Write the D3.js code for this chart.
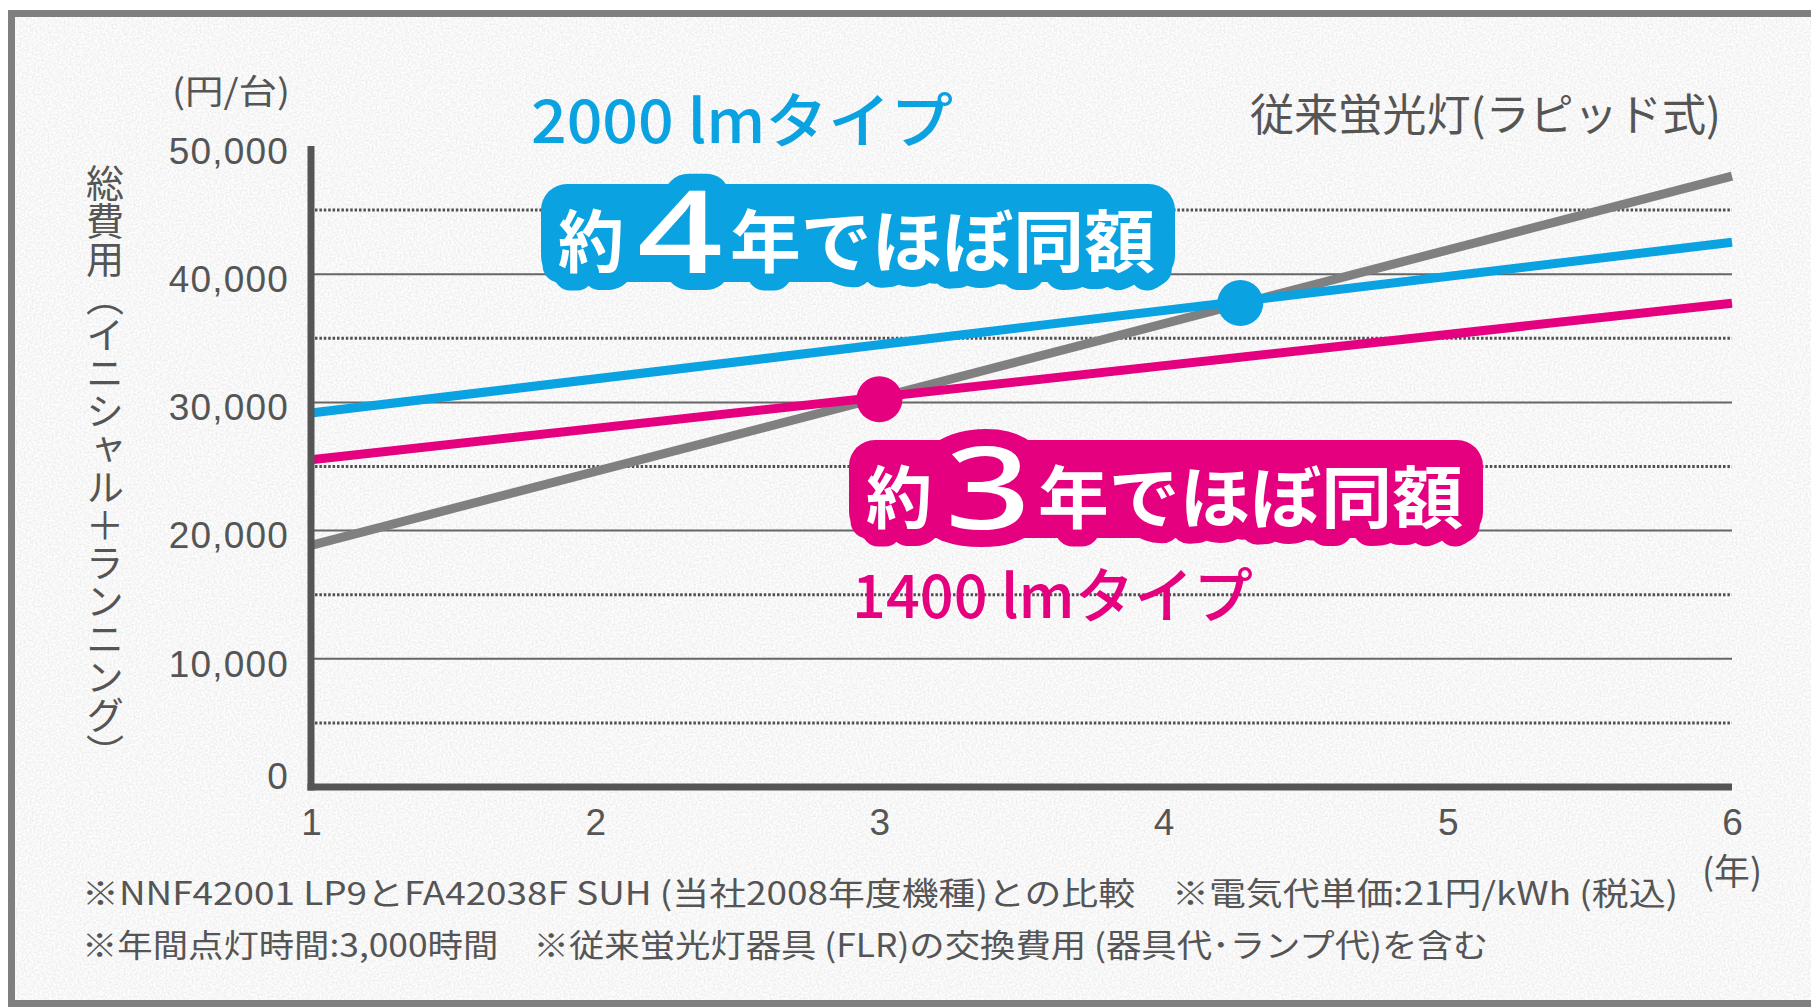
<!DOCTYPE html>
<html><head><meta charset="utf-8">
<script src="https://cdn.jsdelivr.net/npm/d3@7"></script>
<style>
html,body{margin:0;padding:0;background:#fff;}
svg{display:block;}
</style>
</head><body>
<script>
// ---- data ----
const years = [1, 6];
const conventional = [18850, 47650];   // 従来蛍光灯(ラピッド式)
const lm2000 = [29170, 42490];         // 2000 lmタイプ
const lm1400 = [25530, 37740];         // 1400 lmタイプ
const breakEvenYears = [4.27, 3.0];
const breakEvenValues = [37750, 30250];
const xTicks = [1, 2, 3, 4, 5, 6];
const yTicks = [0, 10000, 20000, 30000, 40000, 50000];
const yMinor = [5000, 15000, 25000, 35000, 45000];
const seriesNames = ["従来蛍光灯(ラピッド式)", "2000 lmタイプ", "1400 lmタイプ"];
const callouts = ["約", "4", "年でほぼ同額", "約", "3", "年でほぼ同額"];
const notes = [
  "※NNF42001 LP9とFA42038F SUH (当社2008年度機種)との比較　※電気代単価:21円/kWh (税込)",
  "※年間点灯時間:3,000時間　※従来蛍光灯器具 (FLR)の交換費用 (器具代･ランプ代)を含む"
];

const W = 1811, H = 1008;
const BLUE = "#0aa2e0", PINK = "#e4007f", GRAY = "#808080", TXT = "#555";
const JP = "'Noto Sans CJK JP','Noto Sans',sans-serif";
const NUM = "'Liberation Sans',Arial,sans-serif";

const svg = d3.select("body").append("svg").attr("width", W).attr("height", H);
const defs = svg.append("defs");
const f = defs.append("filter").attr("id", "paper").attr("x", 0).attr("y", 0).attr("width", "100%").attr("height", "100%");
f.append("feTurbulence").attr("type", "fractalNoise").attr("baseFrequency", "0.5").attr("numOctaves", 3).attr("seed", 4);
f.append("feColorMatrix").attr("type", "matrix")
  .attr("values", "0 0 0 0 1  0 0 0 0 1  0 0 0 0 1  2.2 0 0 0 -0.6");

// background & frame
svg.append("rect").attr("width", W).attr("height", H).attr("fill", "#fff");
svg.append("rect").attr("x", 11.5).attr("y", 13.5).attr("width", W).attr("height", 990).attr("fill", "#efefef");
svg.append("rect").attr("x", 11.5).attr("y", 13.5).attr("width", W).attr("height", 990).attr("filter", "url(#paper)");
svg.append("rect").attr("x", 11.5).attr("y", 13.5).attr("width", W).attr("height", 990)
  .attr("fill", "none").attr("stroke", "#7f7f7f").attr("stroke-width", 7);

const x = d3.scaleLinear().domain([1, 6]).range([311, 1732]);
const y = d3.scaleLinear().domain([0, 50000]).range([787, 146]);

// grid
svg.append("g").selectAll("line").data(yTicks.filter(v => v > 0 && v < 50000)).join("line")
  .attr("x1", x(1)).attr("x2", x(6)).attr("y1", d => y(d)).attr("y2", d => y(d))
  .attr("stroke", "#666").attr("stroke-width", 2);
svg.append("g").selectAll("line").data(yMinor).join("line")
  .attr("x1", x(1) + 4).attr("x2", x(6)).attr("y1", d => y(d)).attr("y2", d => y(d))
  .attr("stroke", "#505050").attr("stroke-width", 3).attr("stroke-dasharray", "2.5 1.9");

// axes labels
const yAxis = svg.append("g").attr("transform", "translate(289,0)")
  .call(d3.axisLeft(y).tickValues(yTicks).tickSize(0).tickPadding(0).tickFormat(d3.format(",")));
yAxis.select(".domain").remove();
yAxis.selectAll("text").attr("font-family", NUM).attr("font-size", 37).attr("fill", TXT)
  .attr("letter-spacing", 1.2).attr("dy", "0.36em").attr("y", d => d === 0 ? -12 : 4);

const xAxis = svg.append("g").attr("transform", "translate(0,787)")
  .call(d3.axisBottom(x).tickValues(xTicks).tickSize(0).tickFormat(d3.format("d")));
xAxis.select(".domain").remove();
xAxis.selectAll("text").attr("font-family", NUM).attr("font-size", 37).attr("fill", TXT)
  .attr("y", 35).attr("dy", "0.36em");

// series lines
const line = d3.line().x(d => x(d[0])).y(d => y(d[1]));
[[conventional, GRAY], [lm2000, BLUE], [lm1400, PINK]].forEach(([vals, c]) => {
  svg.append("path").datum(years.map((yr, i) => [yr, vals[i]]))
    .attr("d", line).attr("fill", "none").attr("stroke", c).attr("stroke-width", 9);
});
// break-even dots
svg.append("g").selectAll("circle").data([0, 1]).join("circle")
  .attr("cx", i => x(breakEvenYears[i])).attr("cy", i => y(breakEvenValues[i]))
  .attr("r", 23).attr("fill", i => i === 0 ? BLUE : PINK);

// thick axis lines
svg.append("line").attr("x1", x(1)).attr("x2", x(1)).attr("y1", y(50000)).attr("y2", y(0) + 3.5)
  .attr("stroke", "#555").attr("stroke-width", 7);
svg.append("line").attr("x1", x(1) - 3.5).attr("x2", x(6)).attr("y1", y(0)).attr("y2", y(0))
  .attr("stroke", "#555").attr("stroke-width", 7);

// unit labels
svg.append("text").attr("x", 231).attr("y", 89).attr("dominant-baseline", "central").attr("text-anchor", "middle")
  .attr("font-family", JP).attr("font-size", 34).attr("fill", TXT).attr("textLength", 118).attr("lengthAdjust", "spacingAndGlyphs")
  .text("(円/台)");
svg.append("text").attr("x", 1732).attr("y", 869).attr("dominant-baseline", "central").attr("text-anchor", "middle")
  .attr("font-family", JP).attr("font-size", 36).attr("fill", TXT).attr("textLength", 60).attr("lengthAdjust", "spacingAndGlyphs")
  .text("(年)");
svg.append("text").attr("x", 105).attr("y", 164)
  .style("writing-mode", "vertical-rl").attr("font-family", JP).attr("font-size", 38).attr("fill", TXT)
  .text("総費用（イニシャル＋ランニング）");

// series labels
svg.append("text").attr("x", 1250).attr("y", 112).attr("dominant-baseline", "central")
  .attr("font-family", JP).attr("font-size", 44).attr("fill", TXT).attr("textLength", 471).attr("lengthAdjust", "spacingAndGlyphs")
  .text(seriesNames[0]);
svg.append("text").attr("x", 531).attr("y", 143)
  .attr("font-family", JP).attr("font-weight", 500).attr("font-size", 60).attr("fill", BLUE).attr("textLength", 422).attr("lengthAdjust", "spacingAndGlyphs")
  .text(seriesNames[1]);
svg.append("text").attr("x", 852).attr("y", 618)
  .attr("font-family", JP).attr("font-weight", 500).attr("font-size", 60).attr("fill", PINK).attr("textLength", 401).attr("lengthAdjust", "spacingAndGlyphs")
  .text(seriesNames[2]);

// callouts
function callout(dx, dy, color, parts) {
  const g = svg.append("g").attr("transform", `translate(${dx},${dy})`);
  g.append("rect").attr("x", 541).attr("y", 184).attr("width", 634).attr("height", 98).attr("rx", 26).attr("fill", color);
  const items = [
    {t: parts[0], x: 558, y: 237, fs: 68, len: 66, base: "central", ff: JP, fw: 700},
    {t: parts[1], x: 637, y: 273, fs: 114, len: 86, base: "auto", ff: "'Noto Sans',sans-serif", fw: 500},
    {t: parts[2], x: 730, y: 237, fs: 68, len: 425, base: "central", ff: JP, fw: 700}
  ];
  [true, false].forEach(bg => {
    items.forEach(it => {
      const t = g.append("text").attr("x", it.x).attr("y", it.y).attr("dominant-baseline", it.base)
        .attr("font-family", it.ff).attr("font-weight", it.fw).attr("font-size", it.fs)
        .attr("textLength", it.len).attr("lengthAdjust", "spacingAndGlyphs").text(it.t);
      if (bg) t.attr("fill", color).attr("stroke", color).attr("stroke-width", 34).attr("stroke-linejoin", "round");
      else t.attr("fill", "#fff");
    });
  });
}
callout(0, 0, BLUE, callouts.slice(0, 3));
callout(308, 256, PINK, callouts.slice(3, 6));

// footnotes
svg.append("text").attr("x", 82).attr("y", 891).attr("dominant-baseline", "central")
  .attr("font-family", JP).attr("font-size", 32).attr("fill", TXT).attr("textLength", 1596).attr("lengthAdjust", "spacingAndGlyphs")
  .text(notes[0]);
svg.append("text").attr("x", 82).attr("y", 943).attr("dominant-baseline", "central")
  .attr("font-family", JP).attr("font-size", 32).attr("fill", TXT).attr("textLength", 1406).attr("lengthAdjust", "spacingAndGlyphs")
  .text(notes[1]);
</script>
</body></html>
